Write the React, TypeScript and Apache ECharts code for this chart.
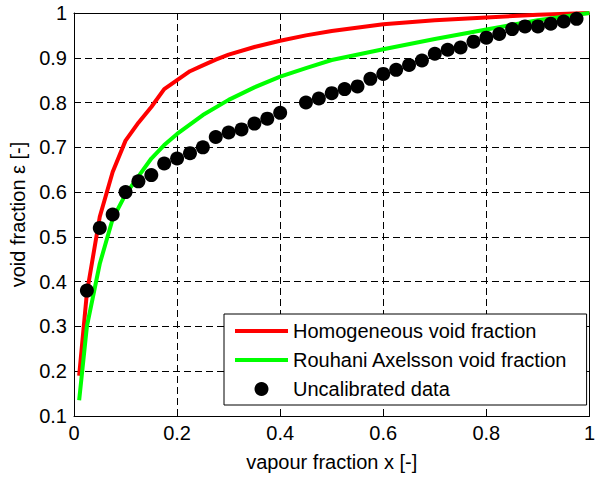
import React, { useEffect, useRef } from "react";
import * as echarts from "echarts";

const homX = [0.01, 0.025, 0.05, 0.075, 0.1, 0.125, 0.15, 0.175, 0.2, 0.225, 0.25, 0.275, 0.3, 0.35, 0.4, 0.45, 0.5, 0.6, 0.7, 0.8, 0.9, 1.0];
const homY = [0.19, 0.375, 0.545, 0.645, 0.715, 0.755, 0.79, 0.83, 0.85, 0.87, 0.883, 0.896, 0.907, 0.924, 0.938, 0.95, 0.96, 0.975, 0.984, 0.99, 0.996, 1.0];

const raX = [0.01, 0.025, 0.05, 0.075, 0.1, 0.125, 0.15, 0.175, 0.2, 0.25, 0.3, 0.35, 0.4, 0.45, 0.5, 0.6, 0.7, 0.8, 0.9, 1.0];
const raY = [0.135, 0.3, 0.44, 0.54, 0.595, 0.635, 0.675, 0.705, 0.73, 0.772, 0.806, 0.834, 0.858, 0.877, 0.895, 0.919, 0.942, 0.963, 0.984, 1.0];

const dotX = [0.025, 0.05, 0.075, 0.1, 0.125, 0.15, 0.175, 0.2, 0.225, 0.25, 0.275, 0.3, 0.325, 0.35, 0.375, 0.4, 0.45, 0.475, 0.5, 0.525, 0.55, 0.575, 0.6, 0.625, 0.65, 0.675, 0.7, 0.725, 0.75, 0.775, 0.8, 0.825, 0.85, 0.875, 0.9, 0.925, 0.95, 0.975];
const dotY = [0.38, 0.52, 0.55, 0.6, 0.624, 0.638, 0.664, 0.675, 0.687, 0.7, 0.723, 0.733, 0.74, 0.753, 0.764, 0.777, 0.8, 0.809, 0.821, 0.83, 0.836, 0.853, 0.864, 0.873, 0.884, 0.894, 0.909, 0.918, 0.923, 0.936, 0.945, 0.953, 0.964, 0.97, 0.97, 0.976, 0.981, 0.987];

const seriesNames = ["Homogeneous void fraction", "Rouhani Axelsson void fraction", "Uncalibrated data"];
const xAxisName = "vapour fraction x [-]";
const yAxisName = "void fraction \u03b5 [-]";

const FONT = "'Liberation Sans', Arial, Helvetica, sans-serif";
const LINE_ICON = "path://M0,0H53V4H0Z";

export default function App() {
  const ref = useRef<HTMLDivElement>(null);
  useEffect(() => {
    document.body.style.margin = "0";
    if (!ref.current) return;
    const chart = echarts.init(ref.current, undefined, { renderer: "svg" });
    const zip = (xs: number[], ys: number[]) => xs.map((x, i) => [x, ys[i]]);
    const axisCommon = {
      axisLine: { show: true, onZero: false, lineStyle: { color: "#000", width: 1 } },
      axisTick: { show: true, inside: true, length: 5, lineStyle: { color: "#000", width: 1 } },
    };
    const gridLine = { show: true, lineStyle: { color: "#000", type: [7, 4], width: 1 } };
    chart.setOption({
      animation: false,
      backgroundColor: "#fff",
      textStyle: { fontFamily: FONT },
      grid: { left: 74, right: 4, top: 13, bottom: 60, containLabel: false },
      xAxis: [
        {
          type: "value",
          min: 0,
          max: 1,
          interval: 0.2,
          position: "bottom",
          name: xAxisName,
          nameLocation: "middle",
          nameGap: 36,
          nameTextStyle: { fontSize: 20, color: "#000", fontFamily: FONT },
          ...axisCommon,
          axisLabel: { fontSize: 20, color: "#000", margin: 7, fontFamily: FONT },
          splitLine: gridLine,
        },
        {
          type: "value",
          min: 0,
          max: 1,
          interval: 0.2,
          position: "top",
          ...axisCommon,
          axisLabel: { show: false },
          splitLine: { show: false },
        },
      ],
      yAxis: [
        {
          type: "value",
          min: 0.1,
          max: 1,
          interval: 0.1,
          position: "left",
          name: yAxisName,
          nameLocation: "middle",
          nameGap: 42,
          nameTextStyle: { fontSize: 20, color: "#000", fontFamily: FONT },
          ...axisCommon,
          axisLabel: { fontSize: 20, color: "#000", margin: 7, fontFamily: FONT },
          splitLine: gridLine,
        },
        {
          type: "value",
          min: 0.1,
          max: 1,
          interval: 0.1,
          position: "right",
          ...axisCommon,
          axisLabel: { show: false },
          splitLine: { show: false },
        },
      ],
      legend: {
        orient: "vertical",
        left: 224,
        top: 314,
        backgroundColor: "#fff",
        borderColor: "#000",
        borderWidth: 1,
        borderRadius: 0,
        padding: [7, 19, 6, 11],
        itemWidth: 53,
        itemHeight: 14,
        itemGap: 9,
        symbolKeepAspect: true,
        textStyle: { fontSize: 20, color: "#000", lineHeight: 20, fontFamily: FONT },
        data: [
          { name: seriesNames[0], icon: LINE_ICON, itemStyle: { color: "#ff0000" } },
          { name: seriesNames[1], icon: LINE_ICON, itemStyle: { color: "#00ff00" } },
          { name: seriesNames[2], icon: "circle", itemStyle: { color: "#000" } },
        ],
      },
      series: [
        {
          name: seriesNames[0],
          type: "line",
          data: zip(homX, homY),
          showSymbol: false,
          symbol: "none",
          lineStyle: { color: "#ff0000", width: 4 },
          itemStyle: { color: "#ff0000" },
          z: 3,
        },
        {
          name: seriesNames[1],
          type: "line",
          data: zip(raX, raY),
          showSymbol: false,
          symbol: "none",
          lineStyle: { color: "#00ff00", width: 4 },
          itemStyle: { color: "#00ff00" },
          z: 3,
        },
        {
          name: seriesNames[2],
          type: "scatter",
          data: zip(dotX, dotY),
          symbol: "circle",
          symbolSize: 14,
          itemStyle: { color: "#000", opacity: 1 },
          z: 4,
        },
      ],
    });
    return () => chart.dispose();
  }, []);
  return <div ref={ref} style={{ width: 598, height: 477 }} />;
}
